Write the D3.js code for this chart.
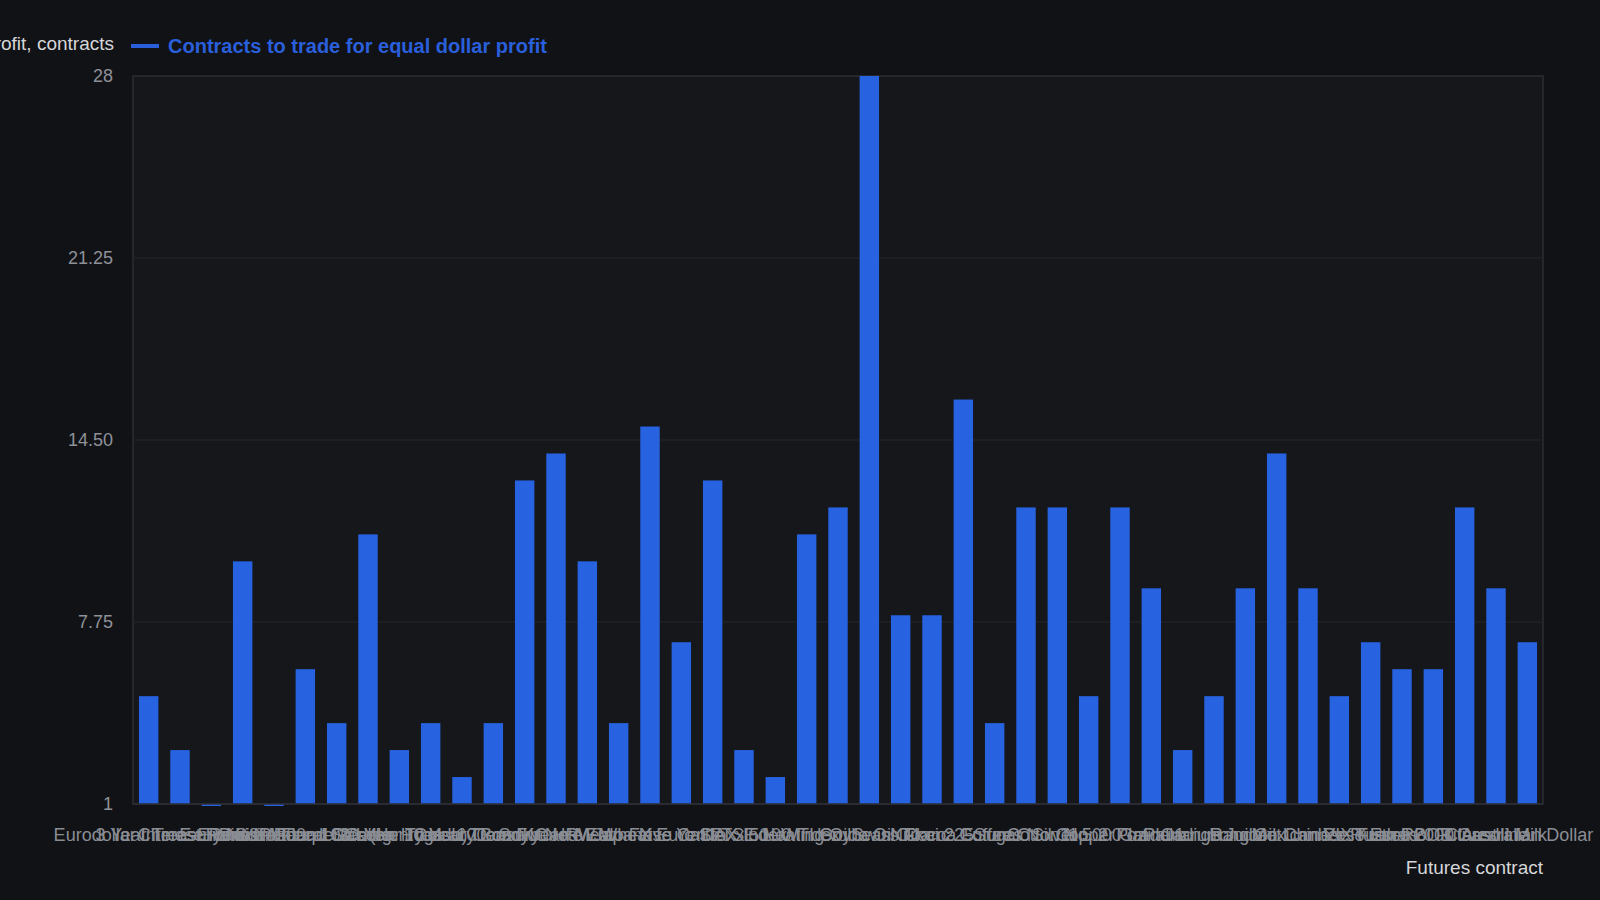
<!DOCTYPE html>
<html>
<head>
<meta charset="utf-8">
<script src="https://cdn.jsdelivr.net/npm/d3@7"></script>
<style>
  html, body { margin: 0; padding: 0; background: #111216; }
  svg { display: block; font-family: "Liberation Sans", Arial, sans-serif; }
</style>
</head>
<body>
<svg id="chart"></svg>
<script>
const contracts = [
  "Eurodollar Interest Rate", "3 Year Treasury Note", "Chinese Renminbi", "E-mini S&P 500",
  "E-mini Nasdaq 100", "British Pound Sterling", "Feeder Cattle", "Natural Gas (Henry Hub)",
  "Lean Hogs", "30 Year Treasury Bond", "Gold 100 oz", "10 Year Treasury Note",
  "Corn Futures", "Soybean Meal", "KC HRW Wheat", "Euro FX", "Japanese Yen",
  "Live Cattle", "Euro Stoxx 50", "DAX Index", "FTSE 100 Index", "Heating Oil",
  "WTI Crude Oil", "Soybean Oil", "Swiss Franc", "Nikkei 225", "Cocoa Futures",
  "Coffee C", "Sugar No. 11", "Cotton No. 2", "Silver 5000 oz", "Copper Grade 1",
  "Platinum", "Palladium", "Orange Juice", "Long Gilt", "Random Lumber",
  "Mexican Peso", "Chinese Yuan", "VIX Futures", "Russell 2000", "Ethanol Futures",
  "RBOB Gasoline", "Class III Milk", "Australian Dollar"
];
const contractsToTrade = [
  5, 3, 1, 10, 1, 6, 4, 11, 3, 4, 2, 4, 13, 14, 10, 4, 15, 7, 13, 3, 2, 11, 12,
  28, 8, 8, 16, 4, 12, 12, 5, 12, 9, 3, 5, 9, 14, 9, 5, 7, 6, 6, 12, 9, 7
];
const yTicks = [1, 7.75, 14.5, 21.25, 28];
const yTickLabels = ["1", "7.75", "14.50", "21.25", "28"];

const width = 1600;
const height = 900;
const margin = { top: 76, right: 57, bottom: 96, left: 133 };
const innerW = width - margin.left - margin.right;
const innerH = height - margin.top - margin.bottom;

const svg = d3.select("#chart").attr("width", width).attr("height", height);

svg.append("rect").attr("width", width).attr("height", height).attr("fill", "#111216");

const plot = svg.append("g").attr("transform", "translate(" + margin.left + "," + margin.top + ")");

const x = d3.scaleBand().domain(contracts).range([0, innerW]).paddingInner(0.38).paddingOuter(0.19);
const y = d3.scaleLinear().domain([1, 28]).range([innerH, 0]);

// plot background + frame
plot.append("rect")
  .attr("width", innerW)
  .attr("height", innerH)
  .attr("fill", "#15171b")
  .attr("stroke", "#2c2e34")
  .attr("stroke-width", 1.5);

// grid
plot.append("g")
  .selectAll("line")
  .data(yTicks.slice(1, -1))
  .enter()
  .append("line")
  .attr("x1", 0)
  .attr("x2", innerW)
  .attr("y1", (d) => y(d))
  .attr("y2", (d) => y(d))
  .attr("stroke", "#25272d")
  .attr("stroke-width", 1);

// y axis labels
const yAxis = d3.axisLeft(y)
  .tickValues(yTicks)
  .tickFormat((d, i) => yTickLabels[i])
  .tickSize(0)
  .tickPadding(20);
const yG = plot.append("g").call(yAxis);
yG.select(".domain").remove();
yG.selectAll("text").attr("fill", "#8e9198").style("font-size", "18px");

// bars
plot.append("g")
  .selectAll("rect")
  .data(contracts)
  .enter()
  .append("rect")
  .attr("x", (d) => x(d))
  .attr("width", x.bandwidth())
  .attr("y", (d, i) => {
    const h = y(1) - y(contractsToTrade[i]);
    return h < 2 ? y(1) : y(contractsToTrade[i]);
  })
  .attr("height", (d, i) => Math.max(y(1) - y(contractsToTrade[i]), 2))
  .attr("fill", "#2762e0");

// bottom axis line
plot.append("line")
  .attr("x1", 0).attr("x2", innerW)
  .attr("y1", innerH).attr("y2", innerH)
  .attr("stroke", "#2c2e34").attr("stroke-width", 1.5);

// x axis labels (overlapping, as in the original)
const xAxis = d3.axisBottom(x).tickSize(0).tickPadding(24);
const xG = plot.append("g").attr("transform", "translate(0," + innerH + ")").call(xAxis);
xG.select(".domain").remove();
xG.selectAll("text").attr("fill", "#8a8d94").style("font-size", "18px");

// axis titles
svg.append("text")
  .attr("x", width - margin.right)
  .attr("y", 874)
  .attr("text-anchor", "end")
  .attr("fill", "#d6d7da")
  .style("font-size", "19px")
  .text("Futures contract");

svg.append("text")
  .attr("x", 114)
  .attr("y", 50)
  .attr("text-anchor", "end")
  .attr("fill", "#d6d7da")
  .style("font-size", "19px")
  .text("Contracts to trade for equal dollar profit, contracts");

// legend
svg.append("line")
  .attr("x1", 131).attr("x2", 159)
  .attr("y1", 46).attr("y2", 46)
  .attr("stroke", "#2a5fdc")
  .attr("stroke-width", 4);
svg.append("text")
  .attr("x", 168)
  .attr("y", 53)
  .attr("fill", "#2a5fdc")
  .style("font-size", "20px")
  .style("font-weight", "bold")
  .text("Contracts to trade for equal dollar profit");
</script>
</body>
</html>
